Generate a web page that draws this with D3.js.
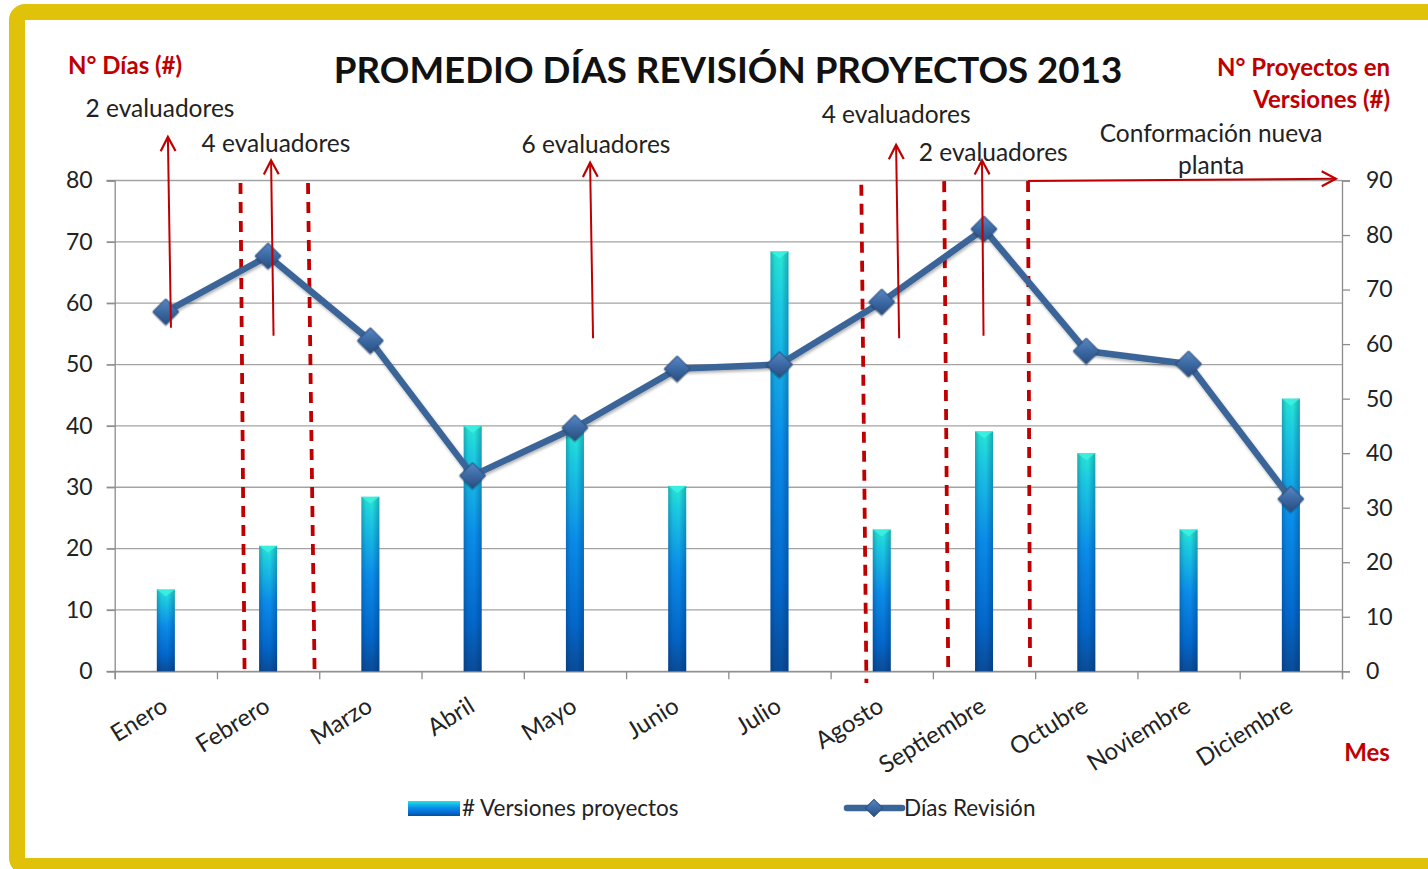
<!DOCTYPE html>
<html>
<head>
<meta charset="utf-8">
<script src="https://cdn.jsdelivr.net/npm/d3@7"></script>
<style>
  body { margin: 0; background: #fff; }
  svg text { font-family: Lato, "Open Sans", sans-serif; }
</style>
</head>
<body>
<div class="chart"></div>
<script>
// data
const months = ["Enero", "Febrero", "Marzo", "Abril", "Mayo", "Junio", "Julio",
  "Agosto", "Septiembre", "Octubre", "Noviembre", "Diciembre"];
const versiones = [15, 23, 32, 45, 44, 34, 77, 26, 44, 40, 26, 50];
const diasRevision = [58.6, 67.7, 53.9, 31.9, 39.7, 49.3, 50, 60.2, 72.1, 52.2, 50.1, 28.1];
const leftTicks = [0, 10, 20, 30, 40, 50, 60, 70, 80];
const rightTicks = [0, 10, 20, 30, 40, 50, 60, 70, 80, 90];

// annotations: positions in month units (0..12) and left-axis units
const dashedLines = [
  { p1: 1.23, p2: 1.27, v1: 79.6, v2: -0.9 },
  { p1: 1.89, p2: 1.955, v1: 79.6, v2: -0.9 },
  { p1: 7.30, p2: 7.35, v1: 79.3, v2: -1.9 },
  { p1: 8.11, p2: 8.15, v1: 79.9, v2: -0.6 },
  { p1: 8.93, p2: 8.95, v1: 79.9, v2: -0.1 }
];
const arrows = [
  { p1: 0.55, v1: 56.0, p2: 0.52, v2: 87.1 },
  { p1: 1.553, v1: 54.7, p2: 1.529, v2: 83.3 },
  { p1: 4.677, v1: 54.3, p2: 4.648, v2: 82.9 },
  { p1: 7.67, v1: 54.3, p2: 7.64, v2: 85.8 },
  { p1: 8.495, v1: 54.7, p2: 8.48, v2: 83.3 },
  { p1: 8.93, v1: 79.9, p2: 11.94, v2: 80.3 }
];
const notes = [
  { text: "2 evaluadores", p: 0.443, v: 91.8 },
  { text: "4 evaluadores", p: 1.577, v: 86.1 },
  { text: "6 evaluadores", p: 4.706, v: 85.9 },
  { text: "4 evaluadores", p: 7.64, v: 90.7 },
  { text: "2 evaluadores", p: 8.59, v: 84.6 },
  { text: "Conformación nueva", p: 10.72, v: 87.6 },
  { text: "planta", p: 10.72, v: 82.4 }
];

const width = 1428;
const height = 869;
const margin = { top: 180.5, right: 86, bottom: 197.7, left: 114.7 };
const red = "#C00000";
const ink = "#222";

const svg = d3.select(".chart").append("svg")
  .attr("width", width)
  .attr("height", height);

const defs = svg.append("defs");

// bar gradients
const barGrad = defs.append("linearGradient").attr("id", "barGrad")
  .attr("x1", 0).attr("y1", 0).attr("x2", 0).attr("y2", 1);
[[0, "#27E8D6"], [0.12, "#1CCDE3"], [0.45, "#0A8DEB"], [0.8, "#0368CC"], [1, "#0A4C98"]]
  .forEach(s => barGrad.append("stop").attr("offset", s[0]).attr("stop-color", s[1]));
const barShade = defs.append("linearGradient").attr("id", "barShade")
  .attr("x1", 0).attr("y1", 0).attr("x2", 1).attr("y2", 0);
[[0, 0.28], [0.25, 0.05], [0.6, 0], [1, 0.3]]
  .forEach(s => barShade.append("stop").attr("offset", s[0])
    .attr("stop-color", "#002050").attr("stop-opacity", s[1]));
const markGrad = defs.append("linearGradient").attr("id", "markGrad")
  .attr("x1", 0).attr("y1", 0).attr("x2", 1).attr("y2", 1);
[[0, "#5A88C4"], [0.5, "#3C69A3"], [1, "#294E80"]]
  .forEach(s => markGrad.append("stop").attr("offset", s[0]).attr("stop-color", s[1]));
defs.append("filter").attr("id", "shadow")
  .append("feDropShadow").attr("dx", 1).attr("dy", 2).attr("stdDeviation", 1.5)
  .attr("flood-color", "#000").attr("flood-opacity", 0.3);

// yellow frame
svg.append("rect")
  .attr("x", 17).attr("y", 12)
  .attr("width", 1428).attr("height", 854)
  .attr("rx", 8)
  .attr("fill", "#fff")
  .attr("stroke", "#E1C20A")
  .attr("stroke-width", 16);

// scales
const x = d3.scaleBand().domain(months)
  .range([margin.left, width - margin.right]);
const xPos = d3.scaleLinear().domain([0, 12])
  .range([margin.left, width - margin.right]);
const yL = d3.scaleLinear().domain([0, 80])
  .range([height - margin.bottom, margin.top]);
const yR = d3.scaleLinear().domain([0, 90])
  .range([height - margin.bottom, margin.top]);

const x0 = margin.left;
const x1 = width - margin.right;
const yBase = yL(0);

// gridlines
svg.append("g")
  .selectAll("line")
  .data(leftTicks)
  .join("line")
  .attr("x1", x0 - 8).attr("x2", x1)
  .attr("y1", d => yL(d)).attr("y2", d => yL(d))
  .attr("stroke", "#A3A3A3")
  .attr("stroke-width", 1.3);

// axes
const leftAxis = svg.append("g")
  .attr("transform", "translate(" + x0 + ",0)")
  .call(d3.axisLeft(yL).tickValues(leftTicks).tickSize(8).tickPadding(14));
const rightAxis = svg.append("g")
  .attr("transform", "translate(" + x1 + ",0)")
  .call(d3.axisRight(yR).tickValues(rightTicks).tickSize(8).tickPadding(16));
const bottomAxis = svg.append("g")
  .attr("transform", "translate(0," + yBase + ")")
  .call(d3.axisBottom(xPos).tickValues(d3.range(0, 13)).tickSize(8).tickFormat(""));

[leftAxis, rightAxis, bottomAxis].forEach(a => {
  a.select(".domain").attr("stroke", "#8C8C8C").attr("stroke-width", 1.3);
  a.selectAll(".tick line").attr("stroke", "#8C8C8C").attr("stroke-width", 1.3);
  a.selectAll("text").attr("font-size", 23).attr("fill", ink)
    .style("font-family", "Lato, sans-serif");
});

// month labels
svg.append("g")
  .selectAll("text")
  .data(months)
  .join("text")
  .attr("transform", d => "translate(" + (x(d) + x.bandwidth() / 2 - 6) + "," + 695 + ") rotate(-32)")
  .attr("text-anchor", "end")
  .attr("dy", "0.75em")
  .attr("font-size", 24)
  .attr("fill", ink)
  .text(d => d);

// bars
const barW = 18;
const bars = svg.append("g");
bars.selectAll("rect.bar")
  .data(versiones)
  .join("rect")
  .attr("class", "bar")
  .attr("x", (d, i) => x(months[i]) + x.bandwidth() / 2 - barW / 2)
  .attr("y", d => yR(d))
  .attr("width", barW)
  .attr("height", d => yBase - yR(d))
  .attr("fill", "url(#barGrad)");
bars.selectAll("rect.shade")
  .data(versiones)
  .join("rect")
  .attr("class", "shade")
  .attr("x", (d, i) => x(months[i]) + x.bandwidth() / 2 - barW / 2)
  .attr("y", d => yR(d))
  .attr("width", barW)
  .attr("height", d => yBase - yR(d))
  .attr("fill", "url(#barShade)");
bars.selectAll("path.bevel")
  .data(versiones)
  .join("path")
  .attr("class", "bevel")
  .attr("d", (d, i) => {
    const cx = x(months[i]) + x.bandwidth() / 2;
    const t = yR(d);
    return "M" + (cx - barW / 2) + "," + t + "L" + (cx + barW / 2) + "," + t +
      "L" + cx + "," + (t + 7) + "Z";
  })
  .attr("fill", "#3FF2E2")
  .attr("opacity", 0.8);

// red dashed separators
svg.append("g")
  .selectAll("line")
  .data(dashedLines)
  .join("line")
  .attr("x1", d => xPos(d.p1)).attr("y1", d => yL(d.v1))
  .attr("x2", d => xPos(d.p2)).attr("y2", d => yL(d.v2))
  .attr("stroke", red)
  .attr("stroke-width", 3.8)
  .attr("stroke-dasharray", "11,8");

// line series
const line = d3.line()
  .x((d, i) => x(months[i]) + x.bandwidth() / 2)
  .y(d => yL(d));
svg.append("path")
  .datum(diasRevision)
  .attr("d", line)
  .attr("fill", "none")
  .attr("stroke", "#3A6598")
  .attr("stroke-width", 6.5)
  .attr("stroke-linejoin", "round")
  .attr("filter", "url(#shadow)");

const diamond = d3.symbol().type(d3.symbolSquare).size(330);
svg.append("g")
  .selectAll("path")
  .data(diasRevision)
  .join("path")
  .attr("d", diamond)
  .attr("transform", (d, i) => "translate(" + (x(months[i]) + x.bandwidth() / 2) + "," + yL(d) + ") rotate(45)")
  .attr("fill", "url(#markGrad)")
  .attr("stroke", "#2B5080")
  .attr("stroke-width", 1)
  .attr("filter", "url(#shadow)");

// arrows
const arrowG = svg.append("g");
arrows.forEach(a => {
  const ax1 = xPos(a.p1), ay1 = yL(a.v1), ax2 = xPos(a.p2), ay2 = yL(a.v2);
  const ang = Math.atan2(ay2 - ay1, ax2 - ax1);
  const head = 16, spread = Math.PI / 6.5;
  arrowG.append("line")
    .attr("x1", ax1).attr("y1", ay1).attr("x2", ax2).attr("y2", ay2)
    .attr("stroke", red).attr("stroke-width", 2);
  arrowG.append("path")
    .attr("d", "M" + (ax2 - head * Math.cos(ang - spread)) + "," + (ay2 - head * Math.sin(ang - spread)) +
      "L" + ax2 + "," + ay2 +
      "L" + (ax2 - head * Math.cos(ang + spread)) + "," + (ay2 - head * Math.sin(ang + spread)))
    .attr("fill", "none").attr("stroke", red).attr("stroke-width", 2.2);
});

// annotation text
svg.append("g")
  .selectAll("text")
  .data(notes)
  .join("text")
  .attr("x", d => xPos(d.p))
  .attr("y", d => yL(d.v))
  .attr("dy", "0.35em")
  .attr("text-anchor", "middle")
  .attr("font-size", 24.5)
  .attr("fill", ink)
  .text(d => d.text);

// title and axis titles
svg.append("text")
  .attr("x", 728).attr("y", 70).attr("dy", "0.35em")
  .attr("text-anchor", "middle")
  .attr("font-size", 36.7).attr("font-weight", "bold")
  .attr("fill", "#111")
  .text("PROMEDIO DÍAS REVISIÓN PROYECTOS 2013");

svg.append("text")
  .attr("x", 68).attr("y", 66).attr("dy", "0.35em")
  .attr("font-size", 24).attr("font-weight", "bold").attr("fill", red)
  .text("N° Días (#)");
svg.append("text")
  .attr("x", 1390).attr("y", 68).attr("dy", "0.35em")
  .attr("text-anchor", "end")
  .attr("font-size", 24).attr("font-weight", "bold").attr("fill", red)
  .text("N° Proyectos en");
svg.append("text")
  .attr("x", 1390).attr("y", 100).attr("dy", "0.35em")
  .attr("text-anchor", "end")
  .attr("font-size", 24).attr("font-weight", "bold").attr("fill", red)
  .text("Versiones (#)");
svg.append("text")
  .attr("x", 1367).attr("y", 753).attr("dy", "0.35em")
  .attr("text-anchor", "middle")
  .attr("font-size", 24).attr("font-weight", "bold").attr("fill", red)
  .text("Mes");

// legend
const legend = svg.append("g");
legend.append("rect")
  .attr("x", 408).attr("y", 801).attr("width", 52).attr("height", 15)
  .attr("fill", "url(#barGrad)");
legend.append("text")
  .attr("x", 462).attr("y", 808).attr("dy", "0.35em")
  .attr("font-size", 22.5).attr("fill", ink)
  .text("# Versiones proyectos");
legend.append("line")
  .attr("x1", 847).attr("x2", 902).attr("y1", 808).attr("y2", 808)
  .attr("stroke", "#3A6598").attr("stroke-width", 6.5)
  .attr("stroke-linecap", "round");
legend.append("path")
  .attr("d", d3.symbol().type(d3.symbolSquare).size(150))
  .attr("transform", "translate(874,808) rotate(45)")
  .attr("fill", "url(#markGrad)")
  .attr("stroke", "#2B5080");
legend.append("text")
  .attr("x", 904).attr("y", 808).attr("dy", "0.35em")
  .attr("font-size", 22.5).attr("fill", ink)
  .text("Días Revisión");
</script>
</body>
</html>
